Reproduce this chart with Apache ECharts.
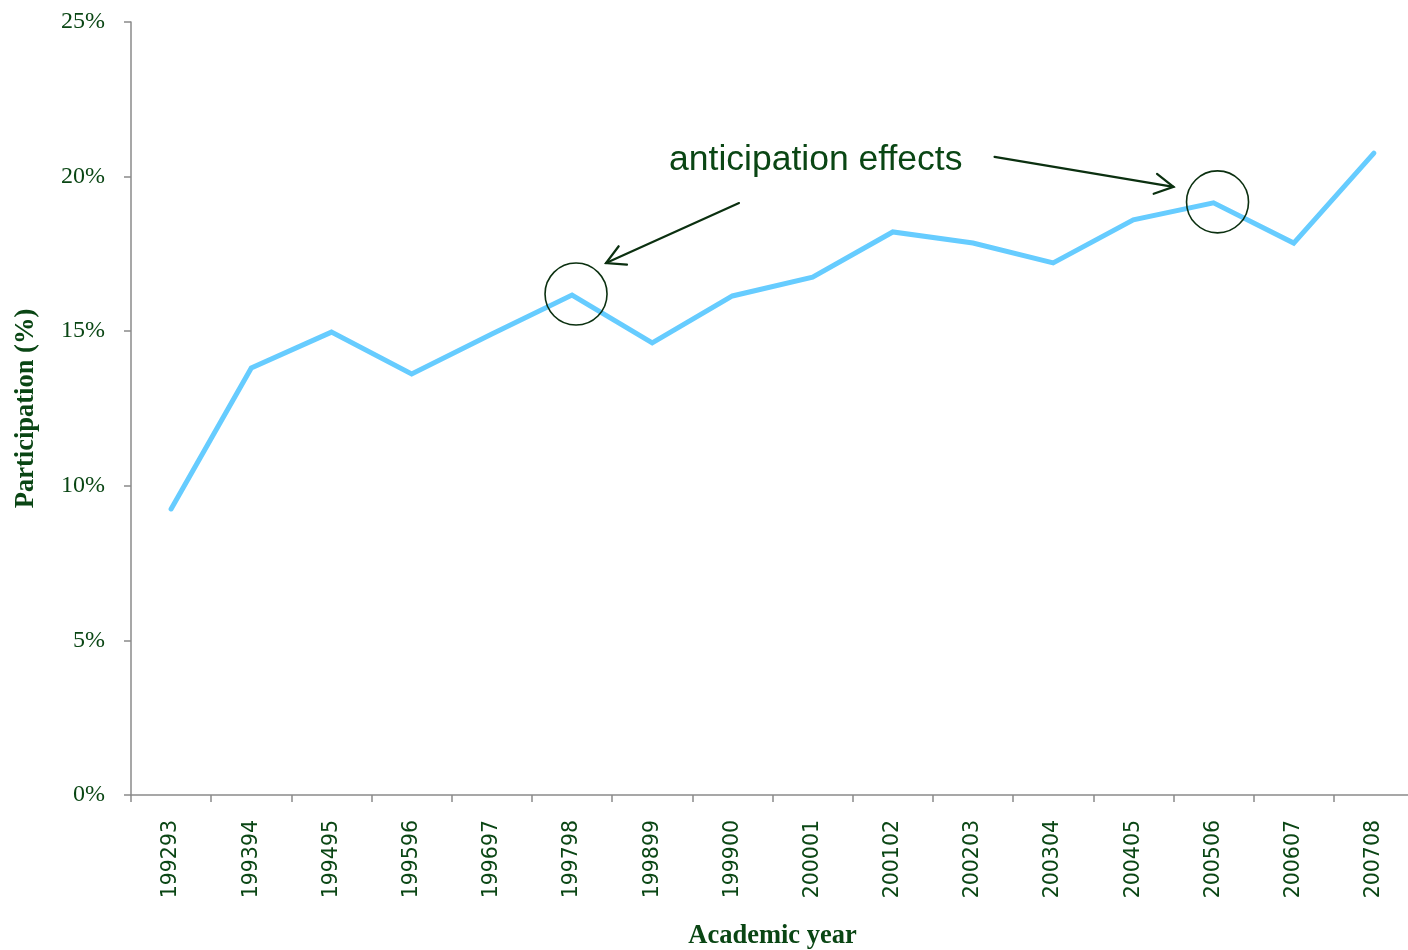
<!DOCTYPE html>
<html>
<head>
<meta charset="utf-8">
<script src="https://cdn.jsdelivr.net/npm/echarts@6/dist/echarts.min.js"></script>
<style>
  html, body { margin: 0; padding: 0; background: #ffffff; }
  #chart { width: 1408px; height: 950px; }
</style>
</head>
<body>
<div id="chart"></div>
<script>
// Academic years and participation rate (%)
const years = ['199293', '199394', '199495', '199596', '199697', '199798', '199899', '199900',
  '200001', '200102', '200203', '200304', '200405', '200506', '200607', '200708'];
const participation = [9.25, 13.81, 14.97, 13.62, 14.91, 16.17, 14.62, 16.14,
  16.75, 18.21, 17.85, 17.21, 18.60, 19.15, 17.85, 20.76];
// Years singled out by the annotation
const highlighted = ['199798', '200506'];
const annotationText = 'anticipation effects';

const textColor = '#0a4614';
const axisColor = '#8a8a8a';

const chart = echarts.init(document.getElementById('chart'), null, { renderer: 'canvas' });

const option = {
  backgroundColor: '#ffffff',
  animation: false,
  grid: { left: 131, top: 22, bottom: 155, width: 1283, containLabel: false, outerBoundsMode: 'none' },
  xAxis: {
    type: 'category',
    data: years,
    boundaryGap: true,
    name: 'Academic year',
    nameLocation: 'middle',
    nameGap: 128,
    nameTextStyle: { fontFamily: 'Liberation Serif', fontWeight: 'bold', fontSize: 26.5, color: textColor },
    axisLine: { lineStyle: { color: axisColor, width: 1.5 } },
    axisTick: { show: true, alignWithLabel: false, length: 7, lineStyle: { color: axisColor, width: 1.5 } },
    axisLabel: {
      rotate: 90, margin: 25, interval: 0,
      fontFamily: 'DejaVu Sans', fontSize: 20.5, color: textColor
    },
    splitLine: { show: false }
  },
  yAxis: {
    type: 'value',
    min: 0, max: 25, interval: 5,
    name: 'Participation (%)',
    nameLocation: 'middle',
    nameGap: 91,
    nameTextStyle: { fontFamily: 'Liberation Serif', fontWeight: 'bold', fontSize: 26.5, color: textColor },
    axisLine: { show: true, lineStyle: { color: axisColor, width: 1.5 } },
    axisTick: { show: true, length: 7, lineStyle: { color: axisColor, width: 1.5 } },
    axisLabel: {
      formatter: '{value}%', margin: 26,
      fontFamily: 'Liberation Serif', fontSize: 24, color: textColor
    },
    splitLine: { show: false }
  },
  series: [{
    type: 'line',
    data: participation,
    symbol: 'none',
    lineStyle: { color: '#66ccff', width: 5, cap: 'round', join: 'miter' },
    markPoint: {
      silent: true,
      symbol: 'circle',
      symbolSize: 62,
      symbolOffset: [4, -1],
      itemStyle: { color: 'rgba(0,0,0,0)', borderColor: '#0b3010', borderWidth: 1.6 },
      label: { show: false },
      data: highlighted.map(y => ({ coord: [y, participation[years.indexOf(y)]] }))
    }
  }]
};
chart.setOption(option);

// Annotation arrows and caption, placed relative to the circled years
function arrow(from, to) {
  const dx = to[0] - from[0], dy = to[1] - from[1];
  const ang = Math.atan2(dy, dx);
  const len = 21, spread = 0.5;
  const h1 = [to[0] - len * Math.cos(ang - spread), to[1] - len * Math.sin(ang - spread)];
  const h2 = [to[0] - len * Math.cos(ang + spread), to[1] - len * Math.sin(ang + spread)];
  const style = { stroke: '#0b3010', lineWidth: 2.2, lineCap: 'round', fill: null };
  return [
    { type: 'line', shape: { x1: from[0], y1: from[1], x2: to[0], y2: to[1] }, style },
    { type: 'polyline', shape: { points: [h1, to, h2] }, style }
  ];
}

const p1 = chart.convertToPixel({ seriesIndex: 0 }, [years.indexOf(highlighted[0]), participation[years.indexOf(highlighted[0])]]);
const p2 = chart.convertToPixel({ seriesIndex: 0 }, [years.indexOf(highlighted[1]), participation[years.indexOf(highlighted[1])]]);

const elements = [].concat(
  arrow([p1[0] + 167, p1[1] - 92], [p1[0] + 34, p1[1] - 32]),
  arrow([p2[0] - 219, p2[1] - 46], [p2[0] - 40, p2[1] - 16]),
  [{
    type: 'text',
    x: (p1[0] + p2[0]) / 2 - 77,
    y: p2[1] - 43,
    style: {
      text: annotationText,
      font: '35.5px "Liberation Sans", Arial, sans-serif',
      fill: textColor,
      align: 'center',
      verticalAlign: 'middle'
    }
  }]
);
chart.setOption({ graphic: { elements } });
</script>
</body>
</html>
